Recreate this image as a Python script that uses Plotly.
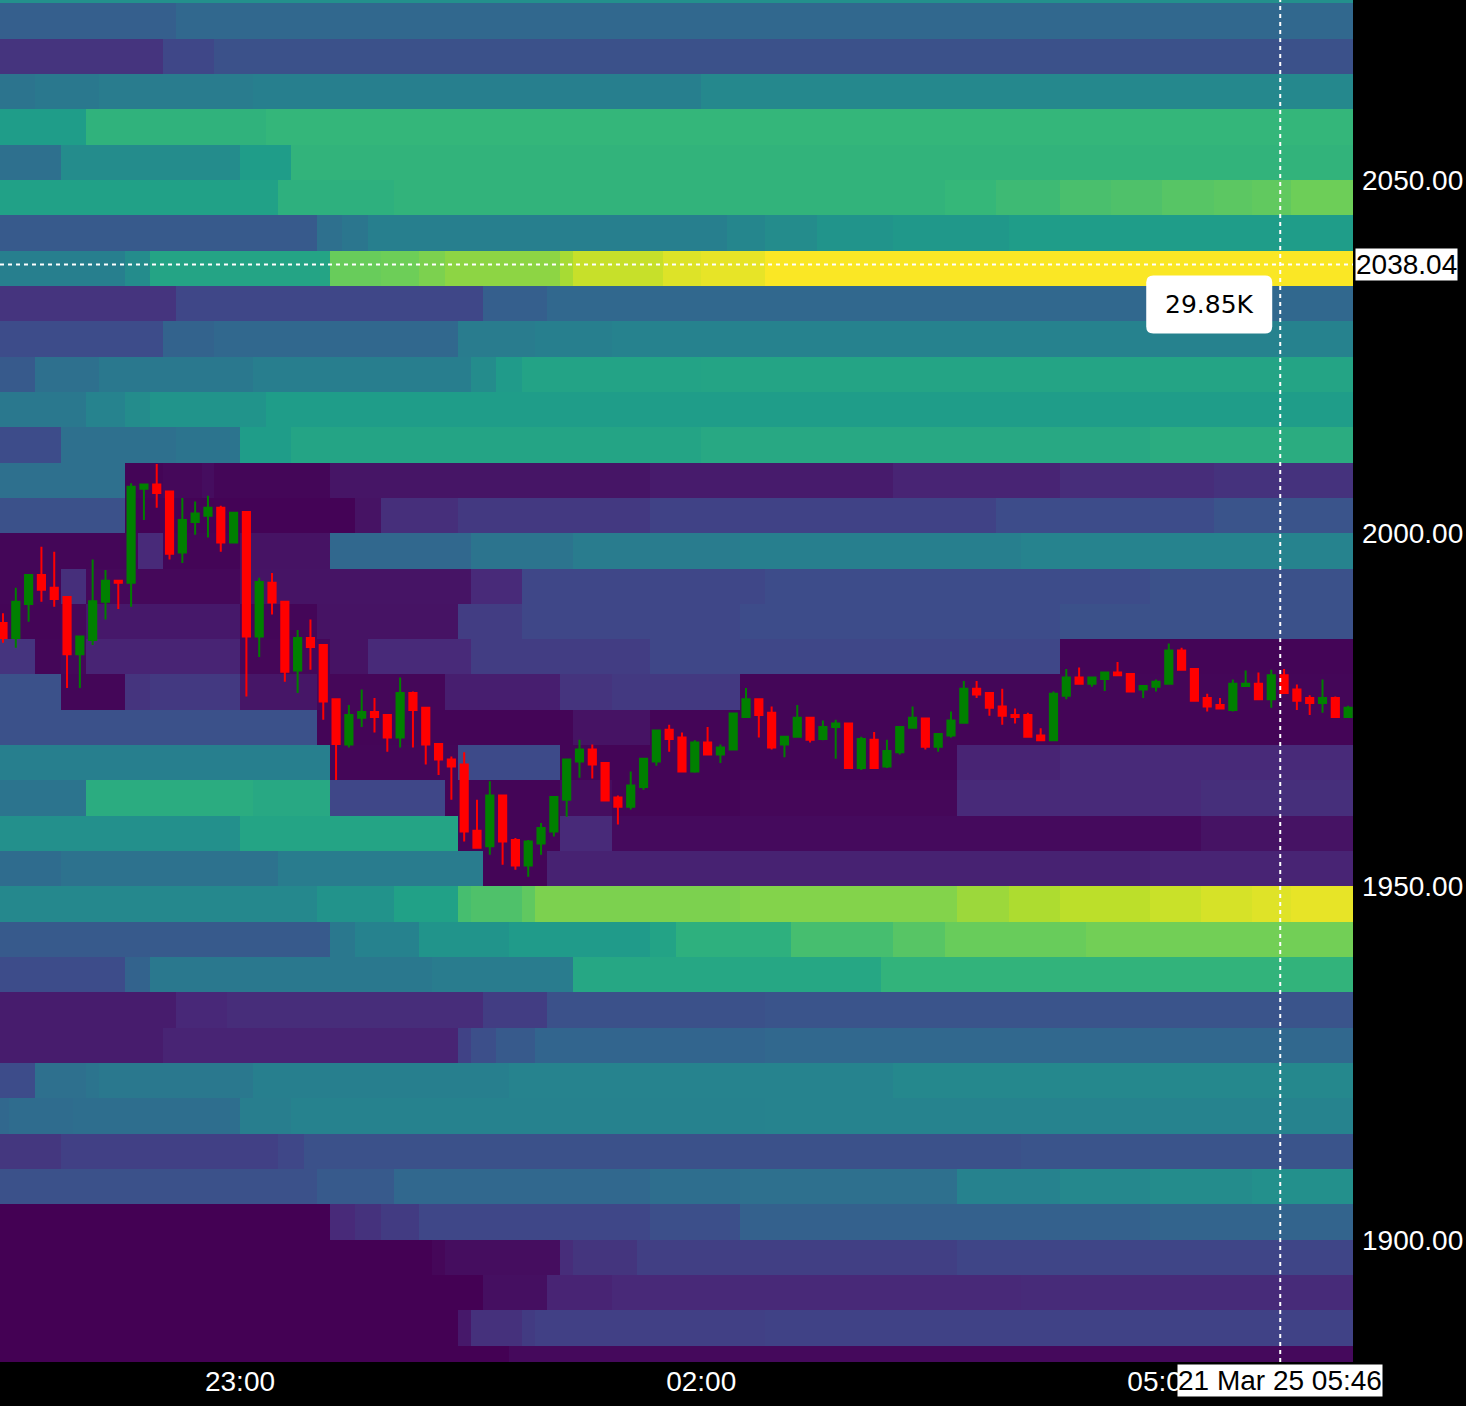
import pandas as pd
import plotly.graph_objects as go

# ---------------- data ----------------
start_time = "2025-03-20 21:25"
n_candles = 106

opens = [1987.3, 1985.2, 1990.0, 1994.1, 1992.3, 1991.0, 1982.9, 1984.9, 1990.3, 1993.3,
         1993.0, 2006.3, 2006.9, 2005.9, 1997.3, 2001.6, 2002.5, 2003.6, 1998.7, 2003.0,
         1985.4, 1993.0, 1990.3, 1980.6, 1985.2, 1984.2, 1976.5, 1970.1, 1973.9, 1974.7,
         1974.3, 1971.1, 1977.4, 1975.3, 1970.2, 1968.0, 1967.3, 1957.9, 1955.7, 1962.9,
         1956.6, 1953.0, 1956.1, 1957.8, 1962.3, 1967.7, 1969.4, 1967.5, 1962.6, 1961.3,
         1964.1, 1967.7, 1972.2, 1971.1, 1966.3, 1970.4, 1968.7, 1969.4, 1974.0, 1976.5,
         1974.6, 1970.1, 1971.2, 1973.9, 1970.9, 1972.6, 1973.1, 1966.8, 1970.8, 1967.0,
         1969.0, 1972.5, 1973.8, 1969.8, 1971.4, 1973.2, 1978.0, 1977.4, 1975.5, 1974.3,
         1974.3, 1971.4, 1970.7, 1977.0, 1979.6, 1978.7, 1979.4, 1980.3, 1980.1, 1977.9,
         1978.3, 1978.7, 1983.4, 1980.8, 1976.7, 1975.7, 1975.0, 1978.4, 1978.7, 1976.5,
         1979.9, 1977.9, 1976.7, 1976.0, 1976.7, 1974.0]
highs = [1988.7, 1992.3, 1994.1, 1998.1, 1997.4, 1991.0, 1985.4, 1996.3, 1994.8, 1993.3,
         2007.1, 2006.9, 2009.8, 2005.9, 2005.0, 2004.5, 2005.3, 2003.9, 2002.9, 2003.0,
         1993.7, 1994.4, 1990.3, 1986.3, 1987.8, 1984.2, 1976.5, 1975.7, 1977.9, 1976.7,
         1974.3, 1979.6, 1977.6, 1975.3, 1970.2, 1968.4, 1969.0, 1962.3, 1964.9, 1962.9,
         1956.9, 1956.6, 1959.0, 1962.7, 1968.0, 1970.8, 1970.1, 1967.5, 1962.9, 1966.3,
         1968.1, 1972.1, 1972.9, 1971.8, 1970.7, 1972.6, 1970.1, 1974.5, 1978.1, 1976.5,
         1975.5, 1971.2, 1975.7, 1973.9, 1973.5, 1973.6, 1973.1, 1971.2, 1971.9, 1970.8,
         1972.6, 1975.5, 1973.8, 1971.6, 1974.8, 1979.1, 1979.1, 1977.4, 1978.0, 1975.2,
         1974.6, 1972.4, 1977.6, 1980.8, 1981.0, 1979.6, 1980.4, 1981.8, 1980.1, 1978.4,
         1979.3, 1984.4, 1983.8, 1980.8, 1977.3, 1976.7, 1979.3, 1980.6, 1980.3, 1980.7,
         1980.8, 1978.6, 1977.1, 1979.3, 1976.9, 1975.6]
lows = [1984.5, 1983.8, 1987.5, 1990.3, 1989.6, 1978.1, 1978.1, 1984.2, 1987.8, 1989.3,
        1989.6, 2001.9, 2003.6, 1996.3, 1995.8, 1999.8, 1999.4, 1997.4, 1998.7, 1976.9,
        1982.5, 1988.5, 1979.0, 1977.4, 1980.7, 1973.6, 1965.1, 1969.7, 1972.6, 1971.8,
        1969.1, 1969.7, 1969.7, 1967.3, 1965.8, 1962.3, 1956.4, 1955.5, 1954.5, 1953.1,
        1952.4, 1951.4, 1954.5, 1957.1, 1959.9, 1965.4, 1965.3, 1962.2, 1958.8, 1960.9,
        1963.7, 1967.1, 1969.1, 1966.3, 1966.1, 1968.7, 1967.5, 1969.4, 1974.0, 1971.1,
        1969.4, 1968.3, 1971.2, 1970.4, 1970.7, 1968.1, 1966.8, 1966.5, 1966.8, 1966.8,
        1968.7, 1972.5, 1969.4, 1969.1, 1971.1, 1973.2, 1976.7, 1974.2, 1972.9, 1973.1,
        1971.2, 1970.7, 1970.7, 1976.5, 1978.7, 1978.3, 1977.7, 1979.9, 1977.6, 1976.7,
        1977.6, 1978.7, 1980.7, 1976.3, 1974.8, 1975.2, 1974.8, 1978.4, 1976.5, 1975.3,
        1977.4, 1975.0, 1974.3, 1974.6, 1974.0, 1974.0]
closes = [1985.2, 1990.3, 1994.1, 1992.0, 1990.7, 1982.9, 1985.4, 1990.4, 1993.3, 1993.0,
          2006.6, 2006.9, 2005.7, 1997.1, 2001.9, 2002.8, 2003.6, 1998.7, 2002.9, 1985.4,
          1993.1, 1990.2, 1980.4, 1985.2, 1983.9, 1976.2, 1970.2, 1974.3, 1974.7, 1974.0,
          1971.1, 1977.4, 1975.0, 1970.1, 1968.0, 1967.0, 1957.8, 1955.5, 1962.9, 1956.4,
          1953.0, 1956.4, 1958.3, 1962.7, 1968.0, 1969.4, 1967.3, 1962.2, 1961.3, 1964.3,
          1968.1, 1972.1, 1970.9, 1966.3, 1970.4, 1968.7, 1969.7, 1974.5, 1976.5, 1974.3,
          1969.7, 1971.2, 1973.9, 1970.8, 1972.6, 1973.1, 1966.8, 1970.9, 1966.8, 1969.2,
          1972.6, 1973.9, 1969.8, 1971.6, 1973.5, 1978.0, 1977.2, 1975.3, 1974.2, 1974.0,
          1971.2, 1970.7, 1977.3, 1979.6, 1978.7, 1979.6, 1980.3, 1979.9, 1977.6, 1978.4,
          1979.0, 1983.4, 1980.7, 1976.3, 1975.5, 1975.2, 1978.7, 1978.7, 1976.5, 1979.9,
          1977.4, 1976.3, 1976.0, 1976.7, 1974.0, 1975.3]

# resting liquidity (thousands) per 5-point price level, run-length encoded:
# (first 5-min column, value) -- value holds until the next entry
lvl_2075 = [(0, 15)]
lvl_2070 = [(0, 9), (14, 10)]
lvl_2065 = [(0, 4.5), (13, 6.5), (17, 7.5)]
lvl_2060 = [(0, 11.5), (3, 12), (8, 12.5), (20, 13), (55, 14)]
lvl_2055 = [(0, 16.5), (7, 19.3), (21, 19.8)]
lvl_2050 = [(0, 11), (5, 14.5), (19, 16.5), (23, 19.5)]
lvl_2045 = [(0, 17), (22, 19), (31, 19.5), (74, 20), (78, 20.5), (83, 21.2), (87, 21.5),
            (91, 22), (95, 22.3), (98, 22.6), (101, 23.3)]
lvl_2040 = [(0, 8.5), (25, 11), (27, 11.8), (29, 13), (57, 13.8), (60, 14.5), (64, 15.5),
            (70, 16), (79, 16.5)]
lvl_2035 = [(0, 13), (10, 14.5), (12, 17.5), (26, 23), (30, 23.3), (33, 24), (35, 24.8),
            (44, 26), (45, 27.5), (52, 28.5), (55, 29), (60, 29.85)]
lvl_2030 = [(0, 4.5), (14, 6.5), (38, 9), (43, 10)]
lvl_2025 = [(0, 7), (13, 9.5), (17, 10), (36, 12.5), (42, 13), (48, 13.3)]
lvl_2020 = [(0, 8.5), (3, 11), (8, 12), (20, 12.8), (37, 14.5), (39, 16.3), (41, 17.3), (55, 17.5)]
lvl_2015 = [(0, 12), (7, 13.5), (10, 14.5), (12, 15.5), (21, 16.5)]
lvl_2010 = [(0, 7), (5, 11), (14, 11.5), (19, 16.5), (23, 17.5), (55, 18), (90, 18.5)]
lvl_2005 = [(0, 11), (10, 0.3), (13, 0.6), (16, 1.0), (17, 0.4), (26, 1.7), (51, 2.2),
            (70, 3), (83, 3.8), (95, 4.3)]
lvl_2000 = [(0, 7.5), (10, 0.2), (28, 1.5), (30, 4), (36, 5), (51, 6), (78, 7), (95, 7.8)]
lvl_1995 = [(0, 0.4), (11, 3.5), (13, 0.3), (19, 1.5), (26, 10), (37, 11.5), (45, 12.5),
            (58, 13), (80, 13.5)]
lvl_1990 = [(0, 0.4), (5, 4), (7, 0.6), (19, 1.6), (37, 3.5), (41, 6.5), (60, 7), (90, 7.5)]
lvl_1985 = [(0, 0.3), (5, 0.6), (7, 2), (19, 0.4), (25, 1.5), (36, 5.5), (41, 6.5), (58, 7), (83, 7.5)]
lvl_1980 = [(0, 4.5), (3, 0.4), (5, 0.6), (7, 3), (19, 0.5), (26, 1.5), (29, 3.5), (37, 5.5),
            (51, 6.5), (83, 0.3)]
lvl_1975 = [(0, 7.5), (5, 0.4), (10, 4.5), (12, 5), (19, 1.8), (25, 0.5), (35, 2.5), (44, 4.5),
            (48, 5), (58, 0.4)]
lvl_1970 = [(0, 7.5), (25, 0.3), (45, 1.5), (51, 0.3)]
lvl_1965 = [(0, 13), (26, 0.4), (36, 6.8), (44, 0.3), (75, 3), (83, 3.5)]
lvl_1960 = [(0, 11.5), (7, 18.5), (20, 18), (26, 6.5), (35, 0.3), (44, 1.0), (48, 0.3),
            (58, 0.5), (75, 3.5), (94, 4)]
lvl_1955 = [(0, 15), (19, 17.5), (36, 0.3), (44, 3.5), (48, 0.8), (94, 1.5)]
lvl_1950 = [(0, 10.5), (5, 11.3), (22, 12.5), (38, 0.3), (43, 2.8), (90, 3)]
lvl_1945 = [(0, 14), (25, 15.3), (31, 17), (36, 21), (37, 21.5), (41, 22.5), (42, 24), (58, 24.3),
            (75, 25.5), (79, 26.3), (83, 27), (90, 27.6), (94, 28.2), (98, 28.6), (101, 29)]
lvl_1940 = [(0, 8.5), (26, 12), (28, 13.3), (33, 15.5), (40, 16.3), (51, 17.3), (53, 19),
            (62, 21), (70, 22), (74, 23), (85, 23.5)]
lvl_1935 = [(0, 7), (10, 9.5), (12, 12), (34, 12.5), (45, 17.8), (69, 19.5)]
lvl_1930 = [(0, 2.3), (14, 3.3), (18, 3.8), (38, 5.5), (43, 7.5), (60, 7.8)]
lvl_1925 = [(0, 2.3), (13, 3), (36, 6), (37, 7.3), (39, 8.5), (42, 9.7), (60, 10)]
lvl_1920 = [(0, 7), (3, 11), (7, 11.5), (8, 12), (20, 13), (40, 13.5), (70, 14)]
lvl_1915 = [(0, 10), (1, 10.5), (6, 10.8), (19, 12.8), (23, 13.3), (60, 13.5)]
lvl_1910 = [(0, 4.8), (5, 5.8), (22, 6.5), (24, 7.5), (80, 7.8)]
lvl_1905 = [(0, 7.5), (25, 8.5), (31, 10), (51, 10.8), (58, 11), (75, 13.3), (83, 14), (90, 14.5), (98, 15)]
lvl_1900 = [(0, 0), (26, 3.5), (28, 4.3), (30, 5.3), (33, 6.5), (51, 7.3), (58, 9.3), (90, 9.6)]
lvl_1895 = [(0, 0), (34, 0.5), (35, 1.0), (44, 3.8), (45, 4.6), (50, 5.7), (75, 6.3)]
lvl_1890 = [(0, 0), (38, 1.2), (43, 3), (48, 3.4), (80, 3.6)]
lvl_1885 = [(0, 0), (36, 2), (37, 4.2), (41, 5.3), (42, 5.8), (60, 6)]
lvl_1880 = [(0, 0), (40, 0.7)]

level_rows = [lvl_1880, lvl_1885, lvl_1890, lvl_1895, lvl_1900, lvl_1905, lvl_1910, lvl_1915,
              lvl_1920, lvl_1925, lvl_1930, lvl_1935, lvl_1940, lvl_1945, lvl_1950, lvl_1955,
              lvl_1960, lvl_1965, lvl_1970, lvl_1975, lvl_1980, lvl_1985, lvl_1990, lvl_1995,
              lvl_2000, lvl_2005, lvl_2010, lvl_2015, lvl_2020, lvl_2025, lvl_2030, lvl_2035,
              lvl_2040, lvl_2045, lvl_2050, lvl_2055, lvl_2060, lvl_2065, lvl_2070, lvl_2075]

y_tick_vals = [1900, 1950, 2000, 2050]
cursor_price = 2038.04
cursor_time = "2025-03-21 05:46"
cursor_value = "29.85K"

# ---------------- build ----------------
def decode(segments, n):
    row = []
    for k, (c0, v) in enumerate(segments):
        c1 = segments[k + 1][0] if k + 1 < len(segments) else n
        row.extend([v] * (c1 - c0))
    return row

z = [decode(r, n_candles) for r in level_rows]
x_edges = pd.date_range(start_time, periods=n_candles + 1, freq="5min")
y_edges = list(range(1880, 2085, 5))
times = pd.date_range(start_time, periods=n_candles, freq="5min")

fig = go.Figure()
fig.add_trace(go.Heatmap(
    x=x_edges, y=y_edges, z=z, colorscale="Viridis", zmin=0, zmax=30,
    showscale=False, hoverinfo="skip", zsmooth=False))
fig.add_trace(go.Candlestick(
    x=times, open=opens, high=highs, low=lows, close=closes,
    xperiod=300000, xperiodalignment="middle",
    increasing=dict(line=dict(color="#008000", width=2), fillcolor="#008000"),
    decreasing=dict(line=dict(color="#ff0000", width=2), fillcolor="#ff0000"),
    showlegend=False))

axis_font = dict(family="Liberation Sans, Arial, sans-serif", size=28, color="white")

# rounded hover box (pixel offsets from the cursor point)
r = 7
bx0, bx1, by0, by1 = -134, -8, -11, -69
box_path = (f"M {bx0 + r},{by0} L {bx1 - r},{by0} Q {bx1},{by0} {bx1},{by0 - r} "
            f"L {bx1},{by1 + r} Q {bx1},{by1} {bx1 - r},{by1} "
            f"L {bx0 + r},{by1} Q {bx0},{by1} {bx0},{by1 + r} "
            f"L {bx0},{by0 - r} Q {bx0},{by0} {bx0 + r},{by0} Z")

cross_line = dict(color="white", width=2, dash="4px,4px")

fig.update_layout(
    width=1466, height=1406,
    margin=dict(l=0, r=113, t=0, b=44),
    paper_bgcolor="black", plot_bgcolor="black",
    showlegend=False,
    boxgap=0.2,
    xaxis=dict(
        type="date",
        range=["2025-03-20 21:26:20", "2025-03-21 06:14:24"],
        tick0="2025-03-20 23:00", dtick=3 * 3600 * 1000, tickformat="%H:%M",
        showgrid=False, zeroline=False, showline=False, ticks="",
        tickfont=axis_font, rangeslider=dict(visible=False), fixedrange=True),
    yaxis=dict(
        side="right", range=[1882.73, 2075.47],
        tickvals=y_tick_vals, tickformat=".2f",
        showgrid=False, zeroline=False, showline=False, ticks="",
        ticklabelstandoff=8,
        tickfont=axis_font, fixedrange=True),
    shapes=[
        dict(type="line", xref="paper", x0=0, x1=1, yref="y", y0=cursor_price, y1=cursor_price,
             line=cross_line),
        dict(type="line", xref="x", x0=cursor_time, x1=cursor_time, yref="paper", y0=0, y1=1,
             line=cross_line),
        dict(type="path", xref="x", yref="y", xsizemode="pixel", ysizemode="pixel",
             xanchor=cursor_time, yanchor=cursor_price, path=box_path,
             fillcolor="white", line=dict(width=0)),
    ],
    annotations=[
        dict(xref="paper", x=1, yref="y", y=cursor_price, xanchor="left", yanchor="middle",
             xshift=2, text=f"{cursor_price:.2f}", showarrow=False, bgcolor="white",
             borderpad=0, font=dict(family="Liberation Sans, Arial", size=28, color="black")),
        dict(xref="x", x=cursor_time, yref="paper", y=0, xanchor="center", yanchor="top",
             yshift=-2, text="21 Mar 25 05:46", showarrow=False, bgcolor="white",
             borderpad=0, font=dict(family="Liberation Sans, Arial", size=28, color="black")),
        dict(xref="x", x=cursor_time, yref="y", y=cursor_price, xanchor="center", yanchor="middle",
             xshift=(bx0 + bx1) / 2, yshift=(by0 + by1) / 2, text=cursor_value, showarrow=False,
             font=dict(family="DejaVu Sans", size=25, color="black")),
    ],
)

fig.write_html("out.html", config={"displayModeBar": False},
               post_script="document.body.style.margin='0';")
